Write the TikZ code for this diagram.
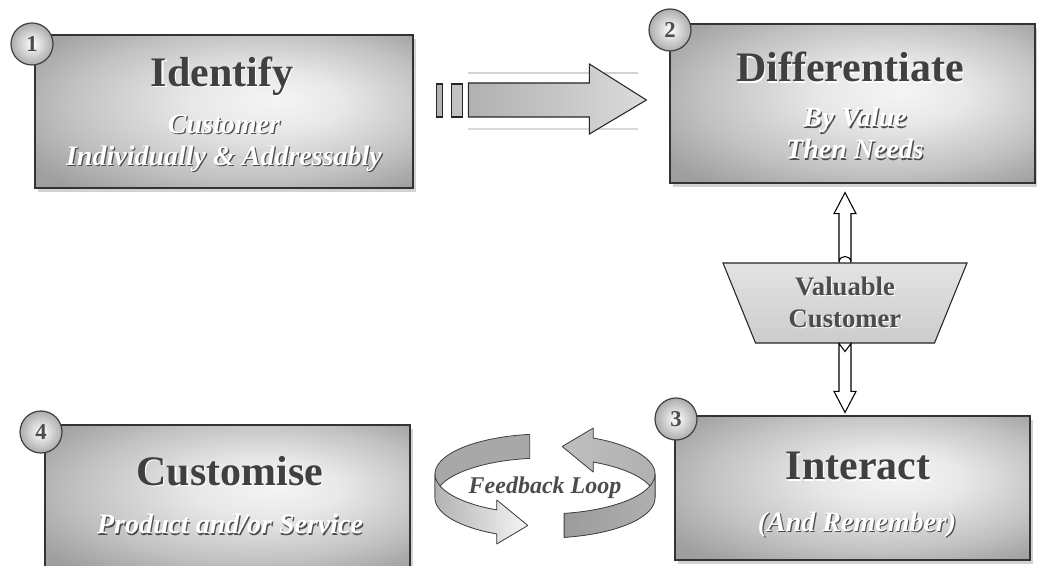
\documentclass[tikz,border=0pt]{standalone}
\usepackage{fontspec}
\setmainfont{Liberation Serif}
\usetikzlibrary{calc,shapes.geometric,shadows}

% soft radial grey used on the four step panels
\pgfdeclareradialshading{boxshade}{\pgfpoint{7bp}{4bp}}{%
  color(0bp)=(gray!8); color(10bp)=(gray!18); color(24bp)=(gray!48);
  color(34bp)=(gray!75); color(50bp)=(gray!78)}

% embossed text: shadow copy offset down-right, then the text itself
\newcommand\emb[3]{\rlap{\kern0.9pt\raisebox{-0.9pt}{\textcolor{#1}{#3}}}\textcolor{#2}{#3}}

\begin{document}
\begin{tikzpicture}[x=0.75pt,y=-0.75pt,
  panel/.style={rectangle, draw=black!80, line width=0.9pt, shading=boxshade,
    inner sep=0pt, drop shadow={shadow xshift=2.5pt, shadow yshift=-3pt,
    fill=black!50, opacity=0.35}},
  numdisc/.style={circle, draw=black!75, line width=0.9pt, inner color=white,
    outer color=gray!65, minimum size=31.5pt, inner sep=0pt,
    font=\bfseries\fontsize{17}{17}\selectfont, text=black!70},
  ttl/.style={inner sep=0pt, font=\bfseries\fontsize{31.5}{36}\selectfont},
  subttl/.style={inner sep=0pt, align=center,
    font=\bfseries\itshape\fontsize{21}{24}\selectfont},
  blockarrow/.style={draw=black!85, line width=0.8pt, line join=miter},
  dblarrow/.style={draw=black, line width=0.8pt, fill=white},
  ribbon/.style={draw=black!75, line width=0.6pt, line join=round}]

\clip (0,0) rectangle (1037,566);
\fill[white] (0,0) rectangle (1037,566);

% ---- step panels ----
\node[panel, minimum width=283.5pt, minimum height=114.75pt] (b1) at (224,111.5) {};
\node[panel, minimum width=273.75pt, minimum height=119.25pt] (b2) at (852.5,103.5) {};
\node[panel, minimum width=266.25pt, minimum height=108pt] (b3) at (852.5,488) {};
\node[panel, minimum width=273.75pt, minimum height=108.75pt] (b4) at (227.5,497.5) {};

% ---- panel texts ----
\node[ttl] (t1) at ($(b1.center)+(-2,-34.5)$) {\emb{white}{black!75}{Identify}};
\node[subttl] (s1) at ($(b1.center)+(0,32.5)$)
  {\emb{black!70}{white}{Customer}\\\emb{black!70}{white}{Individually \& Addressably}};

\node[ttl] (t2) at ($(b2.center)+(-2.5,-35.5)$) {\emb{white}{black!75}{Differentiate}};
\node[subttl] (s2) at ($(b2.center)+(2.5,30.5)$)
  {\emb{black!70}{white}{By Value}\\\emb{black!70}{white}{Then Needs}};

\node[ttl] (t3) at ($(b3.center)+(5.5,-21)$) {\emb{white}{black!75}{Interact}};
\node[subttl] (s3) at ($(b3.center)+(4.5,37)$) {\emb{black!70}{white}{(And Remember)}};

\node[ttl] (t4) at ($(b4.center)+(2.5,-25.5)$) {\emb{white}{black!75}{Customise}};
\node[subttl] (s4) at ($(b4.center)+(2.5,27.5)$) {\emb{black!70}{white}{Product and/or Service}};

% ---- numbered discs ----
\node[numdisc] (n1) at (32,44) {1};
\node[numdisc] (n2) at (670,30) {2};
\node[numdisc] (n3) at (676,419) {3};
\node[numdisc] (n4) at (41,432) {4};

% ---- block arrow from step 1 to step 2 ----
\coordinate (ta) at ($(b2.west)+(-23,-3.5)$);
\begin{scope}[shift={(ta)}]
  \draw[gray!35, line width=1pt] (-178,-27) -- (-8,-27);
  \draw[gray!30, line width=1pt] (-178,29) -- (-8,29);
  \draw[blockarrow, fill=gray!60] (-210,-16) rectangle (-204,17);
  \draw[blockarrow, fill=gray!48] (-195,-16) rectangle (-184,17);
  \draw[blockarrow, left color=gray!62, right color=gray!28]
    (-178,-17) -- (-57,-17) -- (-57,-36) -- (0,0) -- (-57,34) -- (-57,17)
    -- (-178,17) -- cycle;
\end{scope}

% ---- valuable customer ----
\node[trapezium, trapezium angle=58, shape border rotate=180,
  trapezium stretches body, minimum width=183pt, minimum height=60pt,
  draw=black!85, line width=0.8pt, top color=gray!22, bottom color=gray!40,
  align=center, inner sep=0pt,
  font=\bfseries\fontsize{20}{24}\selectfont] (vc) at (845,303)
  {\emb{white}{black!70}{Valuable}\\\emb{white}{black!70}{Customer}};

\coordinate (upTip) at ($(vc.north |- b2.south)+(0,9)$);
\coordinate (dnTip) at ($(vc.south |- b3.north)+(0,-3)$);

\draw[dblarrow] ($(vc.north)+(-6,0)$) -- ($(upTip)+(-6,21)$) -- ($(upTip)+(-11,21)$)
  -- (upTip) -- ($(upTip)+(11,21)$) -- ($(upTip)+(6,21)$) -- ($(vc.north)+(6,0)$)
  .. controls ($(vc.north)+(6,-8)$) and ($(vc.north)+(-6,-8)$) .. ($(vc.north)+(-6,0)$);

\draw[dblarrow] ($(vc.south)+(-6,0)$) -- ($(vc.south)+(0,8)$) -- ($(vc.south)+(6,0)$)
  -- ($(dnTip)+(6,-21)$) -- ($(dnTip)+(11,-21)$) -- (dnTip)
  -- ($(dnTip)+(-11,-21)$) -- ($(dnTip)+(-6,-21)$) -- cycle;

% ---- feedback loop ----
\node[inner sep=0pt, font=\bfseries\itshape\fontsize{18}{20}\selectfont] (fb) at (545,488)
  {\emb{white}{black!70}{Feedback Loop}};

\def\rx{110}\def\ry{40}\def\bw{24}
\begin{scope}[shift={(fb)}]
  \def\cy{-14}
  % left ribbon: back half, then front half with head
  \filldraw[ribbon, fill=gray!68]
    plot[domain=262:180, samples=30, variable=\t] ({\rx*cos(\t)},{\cy+\ry*sin(\t)})
    -- plot[domain=180:262, samples=30, variable=\t] ({\rx*cos(\t)},{\cy+\ry*sin(\t)+\bw})
    -- cycle;
  \filldraw[ribbon, left color=gray!60, right color=gray!8]
    plot[domain=180:116, samples=30, variable=\t] ({\rx*cos(\t)},{\cy+\ry*sin(\t)})
    -- ({\rx*cos(116)},{\cy+\ry*sin(116)-10})
    -- ({\rx*cos(99)},{\cy+\ry*sin(99)+\bw/2})
    -- ({\rx*cos(116)},{\cy+\ry*sin(116)+\bw+10})
    -- plot[domain=116:180, samples=30, variable=\t] ({\rx*cos(\t)},{\cy+\ry*sin(\t)+\bw})
    -- cycle;
  % right ribbon: back half with head, then front half
  \filldraw[ribbon, left color=gray!50, right color=gray!62]
    plot[domain=360:296, samples=30, variable=\t] ({\rx*cos(\t)},{\cy+\ry*sin(\t)})
    -- ({\rx*cos(296)},{\cy+\ry*sin(296)-10})
    -- ({\rx*cos(279)},{\cy+\ry*sin(279)+\bw/2})
    -- ({\rx*cos(296)},{\cy+\ry*sin(296)+\bw+10})
    -- plot[domain=296:360, samples=30, variable=\t] ({\rx*cos(\t)},{\cy+\ry*sin(\t)+\bw})
    -- cycle;
  \filldraw[ribbon, left color=gray!78, right color=gray!62]
    plot[domain=80:0, samples=30, variable=\t] ({\rx*cos(\t)},{\cy+\ry*sin(\t)})
    -- plot[domain=0:80, samples=30, variable=\t] ({\rx*cos(\t)},{\cy+\ry*sin(\t)+\bw})
    -- cycle;
\end{scope}

\end{tikzpicture}
\end{document}
